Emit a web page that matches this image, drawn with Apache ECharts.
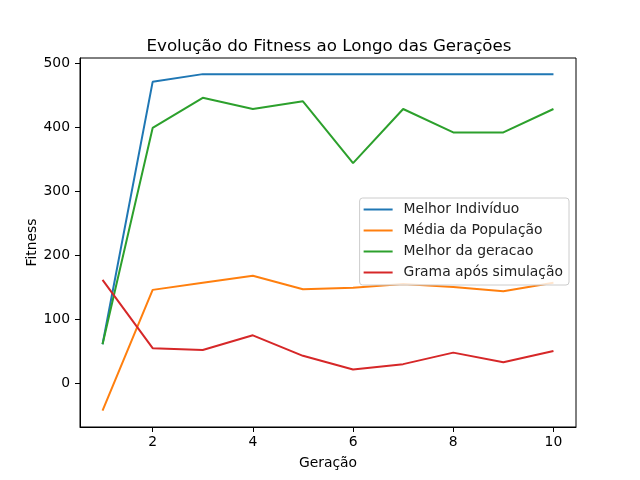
<!DOCTYPE html>
<html>
<head>
<meta charset="utf-8">
<script src="https://cdn.jsdelivr.net/npm/echarts@6/dist/echarts.min.js"></script>
<style>
  html, body { margin: 0; padding: 0; background: #fff; }
  #chart { width: 640px; height: 480px; }
</style>
</head>
<body>
<div id="chart"></div>
<script>
const generations = [1, 2, 3, 4, 5, 6, 7, 8, 9, 10];
const melhorIndividuo = [61, 471, 483, 483, 483, 483, 483, 483, 483, 483];
const mediaPopulacao = [-42.5, 146, 157, 168, 147, 149.5, 155, 150.5, 144, 157];
const melhorGeracao = [61, 399, 446, 428.5, 440.5, 344, 428.5, 392, 392, 428.5];
const gramaSimulacao = [161.5, 55, 52, 75, 43, 21.5, 30, 48, 33, 50.5];
const xTicks = [2, 4, 6, 8, 10];
const yTicks = [0, 100, 200, 300, 400, 500];

const font = 'DejaVu Sans';
const pairs = (vals) => vals.map((v, i) => [generations[i], v]);

function line(name, vals, color) {
  return {
    name,
    type: 'line',
    data: pairs(vals),
    symbol: 'none',
    lineStyle: { width: 2, color },
    itemStyle: { color },
    animation: false,
  };
}

const chart = echarts.init(document.getElementById('chart'), null, { renderer: 'canvas' });

chart.setOption({
  animation: false,
  backgroundColor: '#fff',
  title: {
    text: 'Evolução do Fitness ao Longo das Gerações',
    left: 324,
    textAlign: 'center',
    top: 33,
    textStyle: { fontFamily: font, fontSize: 16.7, fontWeight: 'normal', color: '#000' },
  },
  grid: {
    left: 80, right: 64, top: 58, bottom: 53,
    show: true, borderColor: '#000', borderWidth: 1, backgroundColor: 'transparent',
  },
  legend: {
    orient: 'vertical',
    right: 71,
    top: 198,
    padding: [4, 6, 5, 4],
    itemGap: 6,
    itemWidth: 29,
    itemHeight: 2,
    icon: 'rect',
    backgroundColor: 'rgba(255,255,255,0.8)',
    borderColor: '#ccc',
    borderWidth: 1,
    borderRadius: 3,
    textStyle: { fontFamily: font, fontSize: 13.9, color: '#222', lineHeight: 15, padding: [0, 0, 0, 6] },
    data: ['Melhor Indivíduo', 'Média da População', 'Melhor da geracao', 'Grama após simulação'],
  },
  xAxis: {
    type: 'value',
    min: 0.55,
    max: 10.45,
    name: 'Geração',
    nameLocation: 'middle',
    nameGap: 29,
    nameMoveOverlap: false,
    nameTextStyle: { fontFamily: font, fontSize: 13.9, color: '#000' },
    axisLine: { show: true, onZero: false, lineStyle: { color: '#000', width: 1 } },
    axisTick: { show: true, inside: false, length: 5, customValues: xTicks, lineStyle: { color: '#000' } },
    axisLabel: { customValues: xTicks, margin: 8, fontFamily: font, fontSize: 13.9, color: '#000' },
    splitLine: { show: false },
  },
  yAxis: {
    type: 'value',
    min: -68.2,
    max: 508.2,
    name: 'Fitness',
    nameLocation: 'middle',
    nameGap: 41,
    nameMoveOverlap: false,
    nameTextStyle: { fontFamily: font, fontSize: 13.9, color: '#000' },
    axisLine: { show: true, onZero: false, lineStyle: { color: '#000', width: 1 } },
    axisTick: { show: true, inside: false, length: 5, customValues: yTicks, lineStyle: { color: '#000' } },
    axisLabel: { customValues: yTicks, margin: 10, fontFamily: font, fontSize: 13.9, color: '#000' },
    splitLine: { show: false },
  },
  series: [
    line('Melhor Indivíduo', melhorIndividuo, '#1f77b4'),
    line('Média da População', mediaPopulacao, '#ff7f0e'),
    line('Melhor da geracao', melhorGeracao, '#2ca02c'),
    line('Grama após simulação', gramaSimulacao, '#d62728'),
  ],
});
</script>
</body>
</html>
